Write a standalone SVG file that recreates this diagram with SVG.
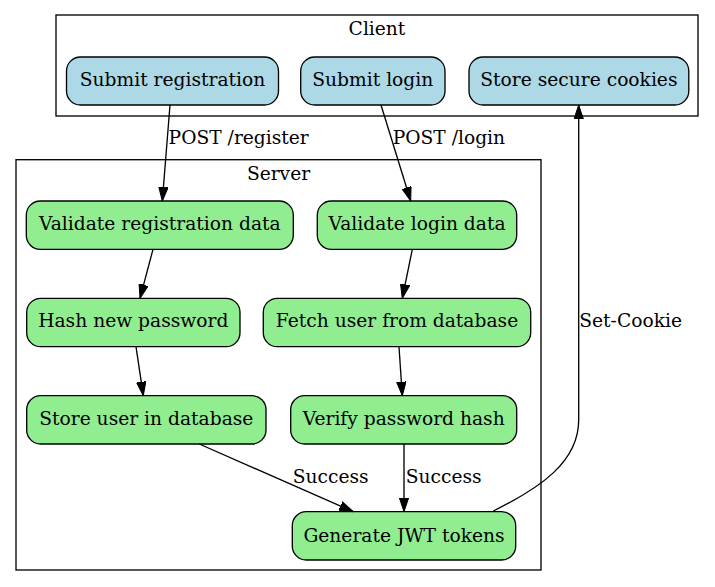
<svg xmlns="http://www.w3.org/2000/svg" width="715" height="587" viewBox="0 0 715 587">
  <style>
    text { font-family: "DejaVu Serif", "Liberation Serif", serif; font-size: 18.67px; fill: #000; }
    .cluster { fill: none; stroke: #000; stroke-width: 1.33; }
    .node rect { stroke: #000; stroke-width: 1.33; }
    .client rect { fill: #add8e6; }
    .server rect { fill: #90ee90; }
    .node text { text-anchor: middle; }
    .edge { fill: none; stroke: #000; stroke-width: 1.33; }
  </style>
  <defs>
    <marker id="arrow" viewBox="0 0 14 10" refX="14" refY="5" markerWidth="14" markerHeight="10" markerUnits="userSpaceOnUse" orient="auto">
      <path d="M0,0.3 L14,5 L0,9.7 Z" fill="#000" stroke="#000" stroke-width="1"/>
    </marker>
  </defs>
  <rect width="715" height="587" fill="#fff"/>

  <!-- clusters -->
  <g id="cluster_client">
    <rect class="cluster" x="56" y="15" width="642" height="101"/>
    <text x="377" y="35" text-anchor="middle">Client</text>
  </g>
  <g id="cluster_server">
    <rect class="cluster" x="16" y="159.7" width="525" height="410.3"/>
    <text x="278.5" y="180" text-anchor="middle">Server</text>
  </g>

  <!-- client nodes -->
  <g id="submit_registration" class="node client">
    <rect x="66.5" y="57" width="212" height="48" rx="14"/>
    <text x="172.5" y="86">Submit registration</text>
  </g>
  <g id="submit_login" class="node client">
    <rect x="300.7" y="57" width="144.3" height="48" rx="14"/>
    <text x="372.8" y="86">Submit login</text>
  </g>
  <g id="store_cookies" class="node client">
    <rect x="469" y="57" width="219.8" height="48" rx="14"/>
    <text x="578.9" y="86">Store secure cookies</text>
  </g>

  <!-- server nodes -->
  <g id="validate_registration" class="node server">
    <rect x="26.3" y="201" width="267" height="48.3" rx="14"/>
    <text x="159.8" y="230">Validate registration data</text>
  </g>
  <g id="validate_login" class="node server">
    <rect x="317.3" y="201" width="199.4" height="48.3" rx="14"/>
    <text x="417" y="230">Validate login data</text>
  </g>
  <g id="hash_password" class="node server">
    <rect x="26.7" y="298.3" width="213.3" height="48.4" rx="14"/>
    <text x="133.3" y="326.7">Hash new password</text>
  </g>
  <g id="fetch_user" class="node server">
    <rect x="263.3" y="298.3" width="267.4" height="48.4" rx="14"/>
    <text x="397" y="326.7">Fetch user from database</text>
  </g>
  <g id="store_user" class="node server">
    <rect x="26.7" y="395.7" width="239.3" height="48.3" rx="14"/>
    <text x="146.3" y="425">Store user in database</text>
  </g>
  <g id="verify_password" class="node server">
    <rect x="290.7" y="395.7" width="226" height="48.3" rx="14"/>
    <text x="403.7" y="425">Verify password hash</text>
  </g>
  <g id="generate_tokens" class="node server">
    <rect x="292.3" y="511.7" width="223.4" height="48.3" rx="14"/>
    <text x="404" y="541.7">Generate JWT tokens</text>
  </g>

  <!-- connectors -->
  <g id="edges">
    <path class="edge" d="M170,105 L162.3,201" marker-end="url(#arrow)"/>
    <text x="168.6" y="144">POST /register</text>
    <path class="edge" d="M381,105 L410.7,201" marker-end="url(#arrow)"/>
    <text x="392.7" y="144">POST /login</text>
    <path class="edge" d="M153,249.3 L140,298.3" marker-end="url(#arrow)"/>
    <path class="edge" d="M412.3,249.3 L402.3,298.3" marker-end="url(#arrow)"/>
    <path class="edge" d="M136,346.7 L143.3,395.7" marker-end="url(#arrow)"/>
    <path class="edge" d="M399,346.7 L402.3,395.7" marker-end="url(#arrow)"/>
    <path class="edge" d="M199.3,444 L353.3,511.7" marker-end="url(#arrow)"/>
    <text x="292.7" y="482.7">Success</text>
    <path class="edge" d="M404,444 L404,511.7" marker-end="url(#arrow)"/>
    <text x="405.7" y="482.7">Success</text>
    <path class="edge" d="M493.3,511 C540,488 578.7,462 578.7,420 L578.7,105" marker-end="url(#arrow)"/>
    <text x="579.3" y="326.7">Set-Cookie</text>
  </g>
</svg>
